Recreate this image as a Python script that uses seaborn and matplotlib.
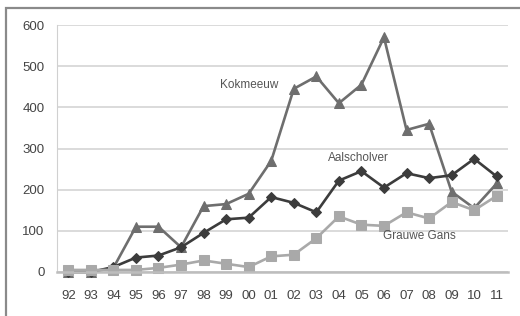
import matplotlib
matplotlib.use("Agg")
import matplotlib.pyplot as plt
import seaborn as sns
import pandas as pd
from matplotlib.patches import Rectangle

years = ["92", "93", "94", "95", "96", "97", "98", "99", "00", "01",
         "02", "03", "04", "05", "06", "07", "08", "09", "10", "11"]
kokmeeuw = [0, 0, 10, 110, 110, 60, 160, 165, 190, 270,
            445, 475, 410, 455, 570, 345, 360, 195, 155, 215]
aalscholver = [0, 0, 12, 35, 40, 60, 95, 128, 132, 182,
               168, 145, 222, 245, 205, 240, 228, 235, 275, 232]
grauwe_gans = [5, 5, 5, 5, 10, 18, 28, 20, 12, 38,
               42, 82, 135, 115, 112, 145, 130, 170, 150, 185]
series_names = ["Kokmeeuw", "Aalscholver", "Grauwe Gans"]

rows = []
for name, vals in zip(series_names, [kokmeeuw, aalscholver, grauwe_gans]):
    for i, v in enumerate(vals):
        rows.append({"idx": i, "value": v, "series": name})
df = pd.DataFrame(rows)

sns.set_style("white")
plt.rcParams['font.family'] = ['Liberation Sans', 'DejaVu Sans']

fig = plt.figure(figsize=(5.2, 3.16), dpi=100)
ax = fig.add_axes([57/520, 1 - 272/316, (508-57)/520, (272-25)/316])

palette = {"Kokmeeuw": "#6e6e6e", "Aalscholver": "#3c3c3c", "Grauwe Gans": "#a9a9a9"}
markers = {"Kokmeeuw": "^", "Aalscholver": "D", "Grauwe Gans": "s"}
sizes_m = {"Kokmeeuw": 7, "Aalscholver": 5, "Grauwe Gans": 6.5}

for name in series_names:
    sub = df[df["series"] == name]
    sns.lineplot(data=sub, x="idx", y="value", ax=ax, color=palette[name],
                 marker=markers[name], markersize=sizes_m[name],
                 markeredgecolor=palette[name], linewidth=1.9, legend=False,
                 clip_on=False)

ax.set_xlim(-0.5, 19.5)
ax.set_ylim(0, 600)
ax.set_yticks([0, 100, 200, 300, 400, 500, 600])
ax.set_xticks(range(len(years)))
ax.set_xticklabels(years)
ax.set_xlabel("")
ax.set_ylabel("")
ax.grid(axis="y", color="#d4d4d4", linewidth=1.2)
ax.set_axisbelow(True)
for s in ["top", "right"]:
    ax.spines[s].set_visible(False)
ax.spines["left"].set_color("#d0d0d0")
ax.spines["bottom"].set_color("#bdbdbd")
ax.spines["bottom"].set_linewidth(1.8)
ax.tick_params(axis="both", length=0, labelsize=9.5, colors="#444444")
ax.tick_params(axis="x", pad=13)
ax.tick_params(axis="y", pad=9)

ax.text(6.73, 454, "Kokmeeuw", fontsize=8.5, color="#555555", va="center")
ax.text(11.5, 277, "Aalscholver", fontsize=8.5, color="#555555", va="center")
ax.text(13.95, 87, "Grauwe Gans", fontsize=8.5, color="#555555", va="center")

fig.patches.append(Rectangle((6/520, -0.01), 1.02, 1 - 8/316 + 0.01,
                             transform=fig.transFigure, fill=False,
                             edgecolor="#8a8a8a", linewidth=1.6))

fig.savefig("out.png", dpi=100)
